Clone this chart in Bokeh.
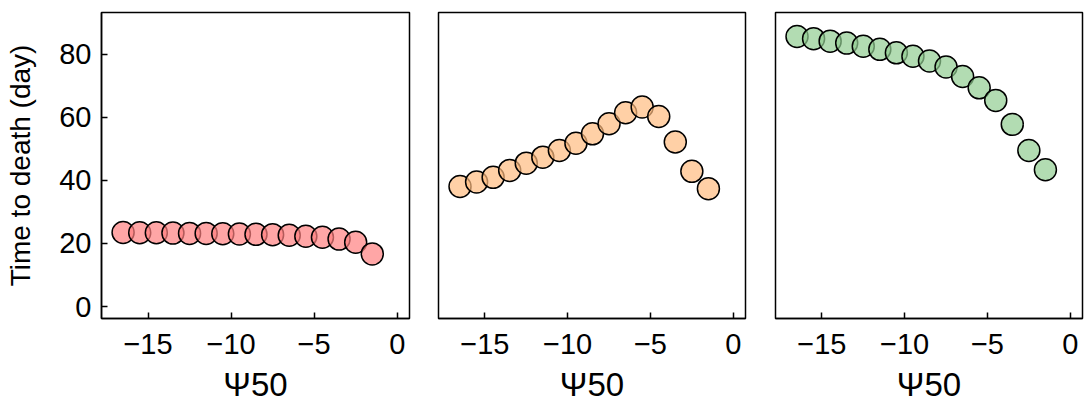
from bokeh.plotting import figure
from bokeh.layouts import row
from bokeh.models import FixedTicker, Range1d
from bokeh.embed import file_html
from bokeh.resources import INLINE

psi50 = [-16.5, -15.5, -14.5, -13.5, -12.5, -11.5, -10.5, -9.5,
         -8.5, -7.5, -6.5, -5.5, -4.5, -3.5, -2.5, -1.5]
ttd_red = [23.5, 23.4, 23.4, 23.3, 23.2, 23.2, 23.1, 23.0,
           22.9, 22.8, 22.6, 22.3, 22.0, 21.4, 20.4, 16.7]
ttd_orange = [38.1, 39.5, 41.0, 43.2, 45.5, 47.4, 49.5, 51.8,
              54.8, 58.0, 61.5, 63.3, 60.3, 52.2, 42.9, 37.4]
ttd_green = [85.7, 85.0, 84.2, 83.6, 82.6, 81.6, 80.5, 79.4,
             77.9, 76.0, 73.0, 69.4, 65.4, 57.8, 49.5, 43.4]

x_ticks = [-15, -10, -5, 0]
y_ticks = [0, 20, 40, 60, 80]
x_label = "Ψ50"
y_label = "Time to death (day)"

FONT = "Liberation Sans"

specs = [
    (ttd_red, "#ff8080", 420, 101, 11, True),
    (ttd_orange, "#ffbc80", 340, 18, 15, False),
    (ttd_green, "#91cd91", 331, 15, 9, False),
]

figs = []
for ys, col, w, bl, br, show_y in specs:
    p = figure(width=w, height=410, output_backend="svg", toolbar_location=None,
               x_range=Range1d(-17.8, 0.74), y_range=Range1d(-3.8, 93.3),
               min_border_left=bl, min_border_right=br,
               min_border_top=12, min_border_bottom=92)
    p.scatter(psi50, ys, size=22, fill_color=col, fill_alpha=0.7,
              line_color="black", line_width=1.5)
    p.xgrid.visible = False
    p.ygrid.visible = False
    p.outline_line_color = "black"
    p.outline_line_width = 1.5
    p.outline_line_alpha = 1.0
    for ax in (p.xaxis[0], p.yaxis[0]):
        ax.axis_line_color = "black"
        ax.axis_line_width = 1.5
        ax.major_tick_in = 6
        ax.major_tick_out = 0
        ax.major_tick_line_width = 1.5
        ax.major_tick_line_color = "black"
        ax.minor_tick_line_color = None
        ax.major_label_text_font = FONT
        ax.major_label_text_font_size = "29px"
        ax.major_label_text_color = "black"
        ax.axis_label_text_font = FONT
        ax.axis_label_text_font_style = "normal"
        ax.axis_label_text_color = "black"
    p.xaxis.ticker = FixedTicker(ticks=x_ticks)
    p.xaxis.major_label_overrides = {t: str(t).replace("-", "\u2212") for t in x_ticks}
    p.xaxis.axis_label = x_label
    p.xaxis.axis_label_text_font_size = "33px"
    p.xaxis.major_label_standoff = 15
    p.xaxis.axis_label_standoff = 9
    p.yaxis.ticker = FixedTicker(ticks=y_ticks)
    if show_y:
        p.yaxis.axis_label = y_label
        p.yaxis.axis_label_text_font_size = "28px"
        p.yaxis.major_label_standoff = 10
        p.yaxis.axis_label_standoff = 20
    else:
        p.yaxis.visible = False
    figs.append(p)

layout = row(*figs)
open("out.html", "w").write(file_html(layout, INLINE))
